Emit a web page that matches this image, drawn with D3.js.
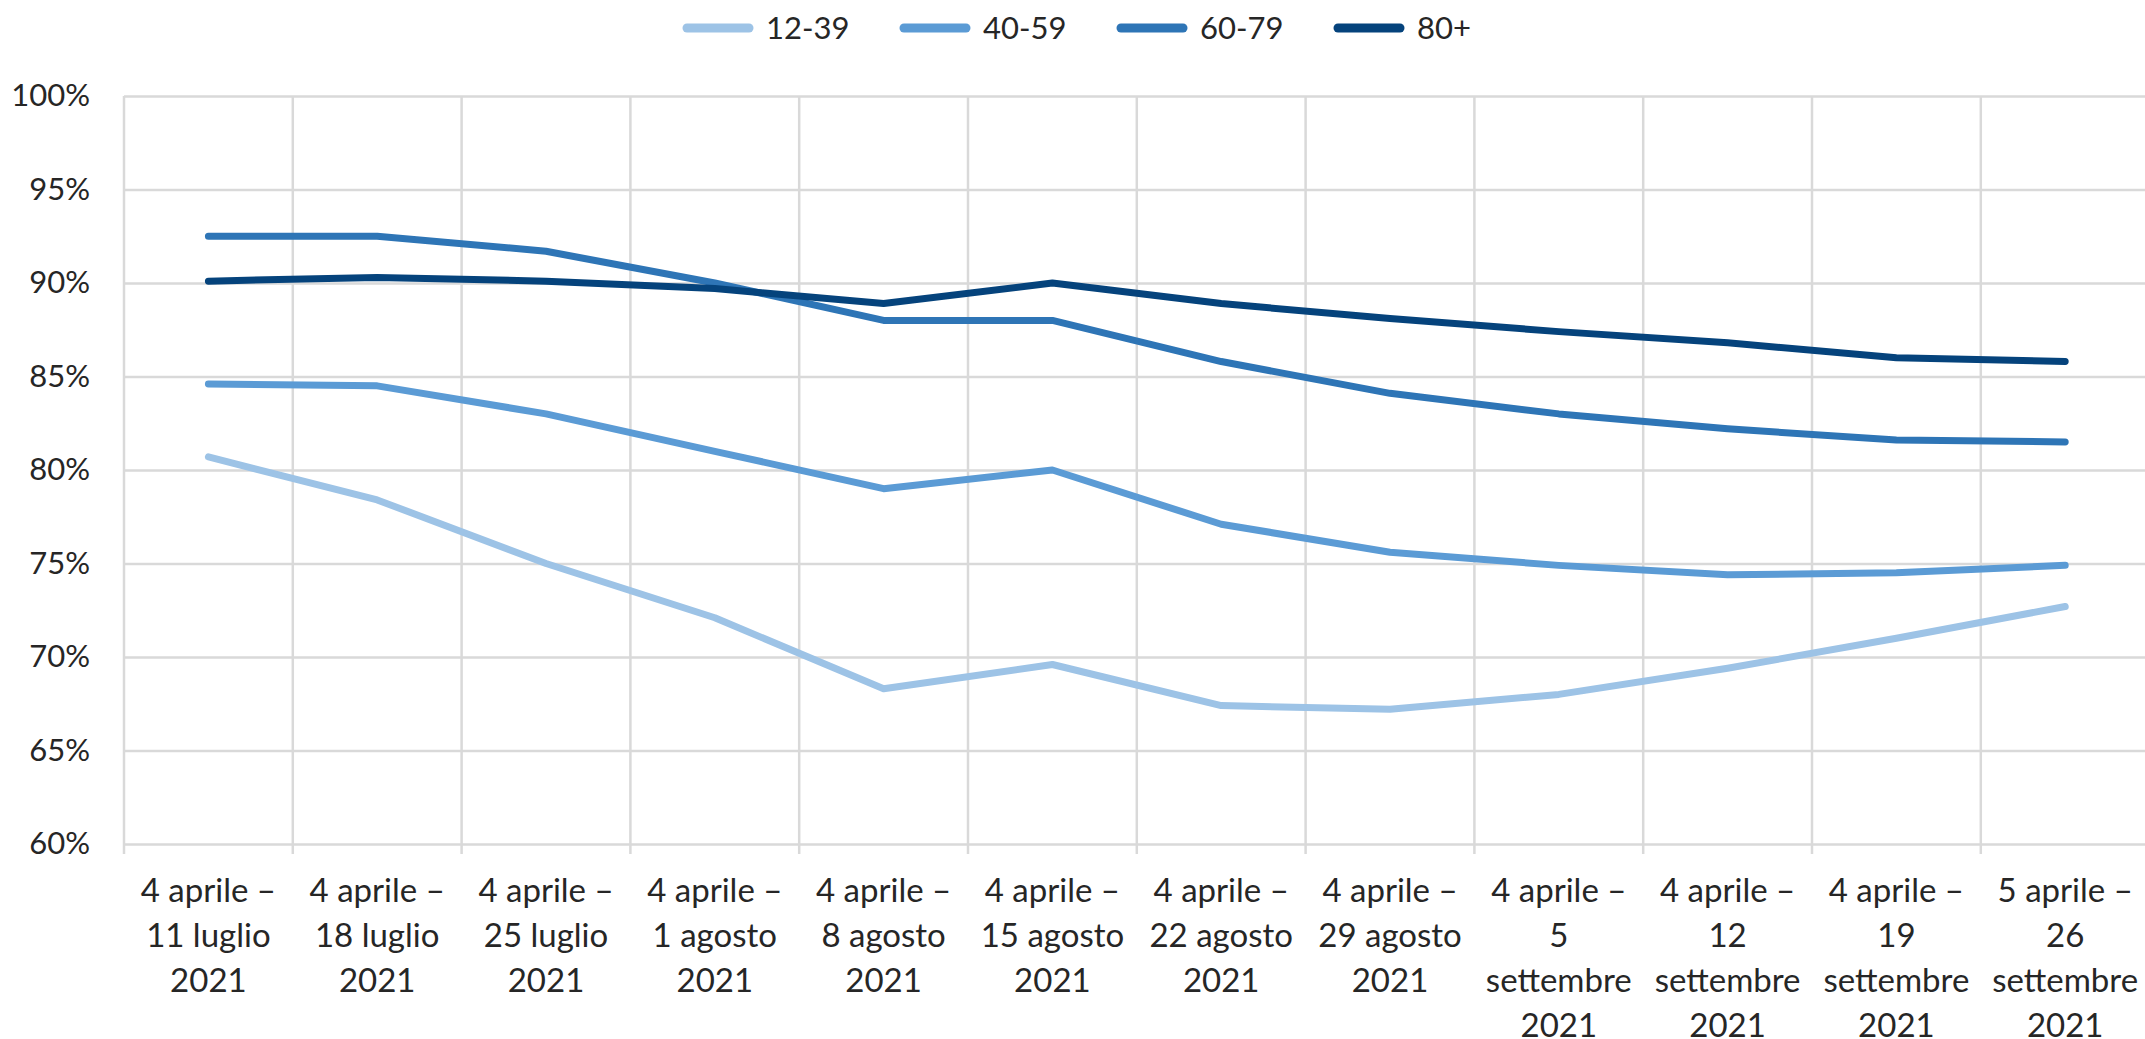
<!DOCTYPE html>
<html>
<head>
<meta charset="utf-8">
<script src="https://cdn.jsdelivr.net/npm/d3@7"></script>
<style>
  body { margin: 0; background: #fff; }
  svg { display: block; }
  text { font-family: Lato, "Open Sans", sans-serif; fill: #262626; }
</style>
</head>
<body>
<svg width="2145" height="1039"></svg>
<script>
// periods shown on the x axis, one line of label per "|"
const periods = [
  '4 aprile –|11 luglio|2021',
  '4 aprile –|18 luglio|2021',
  '4 aprile –|25 luglio|2021',
  '4 aprile –|1 agosto|2021',
  '4 aprile –|8 agosto|2021',
  '4 aprile –|15 agosto|2021',
  '4 aprile –|22 agosto|2021',
  '4 aprile –|29 agosto|2021',
  '4 aprile –|5|settembre|2021',
  '4 aprile –|12|settembre|2021',
  '4 aprile –|19|settembre|2021',
  '5 aprile –|26|settembre|2021'
];

const ageGroups = ['12-39', '40-59', '60-79', '80+'];

const values1239 = [80.7, 78.4, 75.0, 72.1, 68.3, 69.6, 67.4, 67.2, 68.0, 69.4, 71.0, 72.7];
const values4059 = [84.6, 84.5, 83.0, 81.0, 79.0, 80.0, 77.1, 75.6, 74.9, 74.4, 74.5, 74.9];
const values6079 = [92.5, 92.5, 91.7, 90.0, 88.0, 88.0, 85.8, 84.1, 83.0, 82.2, 81.6, 81.5];
const values80 = [90.1, 90.3, 90.1, 89.7, 88.9, 90.0, 88.9, 88.1, 87.4, 86.8, 86.0, 85.8];

const yTicks = [60, 65, 70, 75, 80, 85, 90, 95, 100];

const colors = ['#9dc3e6', '#5b9bd5', '#2e75b6', '#05437c'];

const series = ageGroups.map((name, i) => ({
  name,
  color: colors[i],
  values: [values1239, values4059, values6079, values80][i]
}));

const svg = d3.select('svg');
const margin = { top: 96, left: 124 };
const bandW = 168.8;
const innerHeight = 748;

const xScale = d3.scaleBand()
  .domain(periods)
  .range([margin.left, margin.left + bandW * periods.length]);

const yScale = d3.scaleLinear()
  .domain([60, 100])
  .range([margin.top + innerHeight, margin.top]);

// horizontal gridlines + y labels
const yAxis = d3.axisLeft(yScale)
  .tickValues(yTicks)
  .tickSize(-(2145 - margin.left))
  .tickPadding(34)
  .tickFormat(d => d + '%');

const yAxisG = svg.append('g')
  .attr('transform', `translate(${margin.left},0)`)
  .call(yAxis);
yAxisG.select('.domain').remove();
yAxisG.selectAll('line').attr('stroke', '#d9d9d9').attr('stroke-width', 2.5);
yAxisG.selectAll('text')
  .attr('font-family', 'Lato, sans-serif')
  .attr('font-size', 31)
  .attr('fill', '#262626');

// vertical gridlines at the band edges
const edges = periods.map(p => xScale(p));
svg.append('g')
  .selectAll('line')
  .data(edges)
  .enter().append('line')
    .attr('x1', d => d)
    .attr('x2', d => d)
    .attr('y1', margin.top)
    .attr('y2', margin.top + innerHeight + 10)
    .attr('stroke', '#d9d9d9')
    .attr('stroke-width', 2.5);

// x labels, one text per line
const labelLines = [];
periods.forEach(p => {
  p.split('|').forEach((ln, i) => labelLines.push({ period: p, row: i, text: ln }));
});
svg.append('g')
  .selectAll('text')
  .data(labelLines)
  .enter().append('text')
    .attr('x', d => xScale(d.period) + xScale.bandwidth() / 2)
    .attr('y', d => margin.top + innerHeight + 58 + d.row * 45)
    .attr('text-anchor', 'middle')
    .attr('font-size', 33)
    .text(d => d.text);

// lines
const line = d3.line()
  .x((d, i) => xScale(periods[i]) + xScale.bandwidth() / 2)
  .y(d => yScale(d));

svg.append('g')
  .selectAll('path')
  .data(series)
  .enter().append('path')
    .attr('d', d => line(d.values))
    .attr('fill', 'none')
    .attr('stroke', d => d.color)
    .attr('stroke-width', 7)
    .attr('stroke-linecap', 'round')
    .attr('stroke-linejoin', 'round');

// legend
const legendX = d3.scalePoint().domain(ageGroups).range([683, 1334]);
const legend = svg.append('g')
  .selectAll('g')
  .data(series)
  .enter().append('g')
    .attr('transform', d => `translate(${legendX(d.name)},28)`);
legend.append('line')
  .attr('x1', 4).attr('x2', 66)
  .attr('stroke', d => d.color)
  .attr('stroke-width', 9)
  .attr('stroke-linecap', 'round');
legend.append('text')
  .attr('x', 83)
  .attr('dy', '0.36em')
  .attr('font-size', 31)
  .text(d => d.name);
</script>
</body>
</html>
